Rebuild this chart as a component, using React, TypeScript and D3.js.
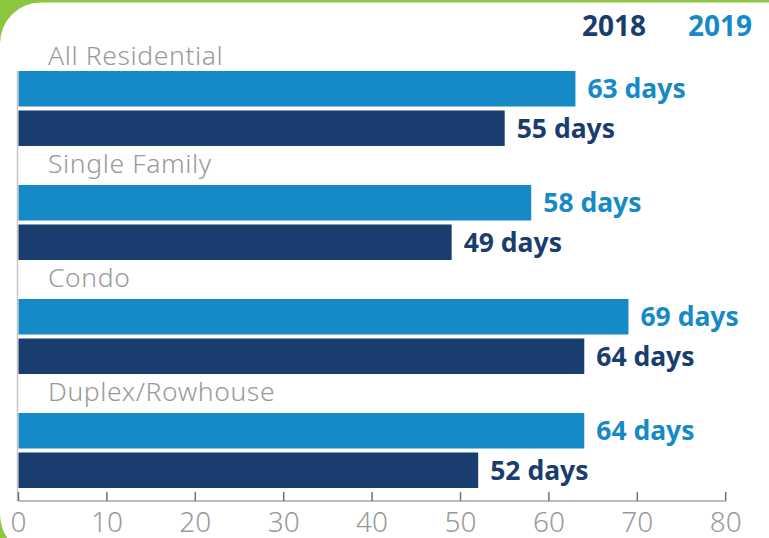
import React from "react";
import * as d3 from "d3";

const categories = ["All Residential", "Single Family", "Condo", "Duplex/Rowhouse"];
const series = ["2019", "2018"];
const values2019 = [63, 58, 69, 64];
const values2018 = [55, 49, 64, 52];
const xTicks = [0, 10, 20, 30, 40, 50, 60, 70, 80];

const W = 769;
const H = 538;
const C2019 = "#1689c7";
const C2018 = "#183d6e";
const GRAY = "#9a9a9a";

export default function App() {
  const x = d3.scaleLinear().domain([0, 80]).range([18.5, 725.7]);
  const yCat = d3.scaleBand<string>().domain(categories).range([32, 488]).padding(0);
  const labelSpace = 39;
  const ySer = d3
    .scaleBand<string>()
    .domain(series)
    .range([0, yCat.bandwidth() - labelSpace])
    .paddingInner(0.101)
    .paddingOuter(0);
  const axisY = 501;
  const font = "'Noto Sans', 'DejaVu Sans', sans-serif";
  const vals: Record<string, number[]> = { "2019": values2019, "2018": values2018 };
  const colors: Record<string, string> = { "2019": C2019, "2018": C2018 };

  return (
    <svg width={W} height={H} style={{ position: "absolute", left: 0, top: 0 }} fontFamily={font}>
      <rect x={0} y={0} width={W} height={H} fill="#8cc63f" />
      <rect x={0} y={2.5} width={W + 60} height={553} rx={41} ry={41} fill="#ffffff" />

      {/* legend */}
      <text x={582} y={36} fontSize={28} fontWeight={700} fill={C2018}>2018</text>
      <text x={688} y={36} fontSize={28} fontWeight={700} fill={C2019}>2019</text>

      {/* left axis line */}
      <line x1={17.5} x2={17.5} y1={71} y2={axisY} stroke="#c8c8c8" strokeWidth={1.5} />

      {categories.map((c, i) => {
        const top = (yCat(c) as number) + labelSpace;
        const labelY = i === 0 ? top - 6 : top - labelSpace / 2 + 7.5;
        return (
          <g key={c}>
            <text x={48} y={labelY} fontSize={26.5} fontWeight={300} letterSpacing={0.6} fill={GRAY}>
              {c}
            </text>
            {series.map((s) => {
              const v = vals[s][i];
              const y0 = top + (ySer(s) as number);
              const bw = ySer.bandwidth();
              return (
                <g key={s}>
                  <rect x={x(0)} y={y0} width={x(v) - x(0)} height={bw} fill={colors[s]} />
                  <text
                    x={x(v) + 12}
                    y={y0 + bw / 2 + 9.5}
                    fontSize={26.5}
                    fontWeight={700}
                    fill={colors[s]}
                  >
                    {v} days
                  </text>
                </g>
              );
            })}
          </g>
        );
      })}

      {/* bottom axis */}
      <line x1={x(0)} x2={x(80)} y1={axisY} y2={axisY} stroke="#bdbdbd" strokeWidth={2} />
      {xTicks.map((t) => (
        <g key={t}>
          <line x1={x(t)} x2={x(t)} y1={axisY - 9} y2={axisY} stroke="#707070" strokeWidth={1.5} />
          <text x={x(t)} y={532} fontSize={28} fontWeight={300} fill={GRAY} textAnchor="middle">
            {t}
          </text>
        </g>
      ))}
    </svg>
  );
}
